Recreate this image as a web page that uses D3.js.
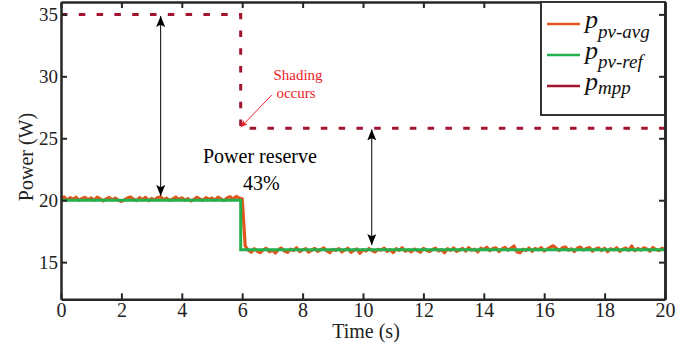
<!DOCTYPE html>
<html>
<head>
<meta charset="utf-8">
<script src="https://cdn.jsdelivr.net/npm/d3@7"></script>
<style>
  body { margin: 0; background: #fff; }
  svg { display: block; }
</style>
</head>
<body>
<svg width="695" height="344" font-family="Liberation Serif"></svg>
<script>
// ---- data ----
var xTicks = [0, 2, 4, 6, 8, 10, 12, 14, 16, 18, 20];
var yTicks = [15, 20, 25, 30, 35];

// p_pv-avg, sampled every 0.1 s from t = 0 to t = 20
var avgStep = 0.1;
var pAvg = [
  20.15, 20.26, 20.02, 20.20, 20.08, 20.24, 19.98, 20.16, 20.22, 20.04,
  20.18, 20.00, 20.25, 20.10, 19.95, 20.12, 20.21, 20.03, 20.17, 19.99,
  19.90, 20.02, 20.18, 20.26, 20.09, 19.97, 20.20, 20.05, 20.23, 19.96,
  20.14, 20.01, 20.22, 20.27, 20.04, 20.16, 19.98, 20.11, 20.25, 20.06,
  20.19, 19.99, 20.13, 19.94, 20.05, 20.23, 20.10, 19.98, 20.21, 20.07,
  20.17, 20.00, 20.24, 20.11, 19.97, 20.19, 20.28, 20.08, 20.30, 20.18,
  20.12, 16.30,
  15.96, 15.80, 16.08, 15.88, 15.76, 16.00, 16.12, 15.84, 15.97, 15.74,
  16.02, 16.14, 15.89, 15.79, 16.05, 15.94, 16.16, 15.85, 15.99, 16.09,
  15.81, 15.96, 16.10, 15.86, 16.01, 16.15, 15.91, 15.77, 16.03, 15.95,
  16.09, 15.83, 15.98, 16.12, 15.79, 15.96, 16.06, 15.72, 16.00, 15.89,
  16.10, 15.94, 15.82, 16.04, 15.97, 16.13, 15.87, 16.01, 15.78, 16.08,
  15.95, 16.16, 15.88, 15.99, 15.83, 16.06, 15.94, 15.80, 16.10, 15.97,
  15.85, 16.02, 16.13, 15.90, 16.00, 15.76, 16.08, 15.95, 16.15, 15.87,
  15.98, 16.11, 15.89, 16.17, 15.96, 16.05, 15.83, 16.13, 16.01, 16.20,
  15.93, 16.09, 16.16, 15.86, 16.07, 16.19, 15.96, 16.12, 16.30, 15.82,
  15.76, 16.05, 15.94, 16.14, 15.88, 16.10, 15.99, 16.17, 15.90, 16.06,
  16.20, 16.32, 16.12, 15.93, 16.15, 16.23, 15.96, 16.08, 15.86, 16.14,
  16.21, 15.97, 16.10, 16.18, 15.89, 16.06, 16.15, 15.94, 16.12, 15.84,
  16.08, 15.98, 16.17, 15.87, 16.04, 16.14, 15.95, 16.30, 15.92, 16.10,
  15.97, 16.16, 16.06, 15.89, 16.18, 16.02, 15.93, 16.12, 16.04
];

// p_pv-ref (step)
var refT = [0, 5.95, 5.95, 20];
var refP = [20, 20, 16, 16];

// p_mpp (step)
var mppT = [0, 5.95, 5.95, 20];
var mppP = [35, 35, 25.8, 25.8];

// reserve arrows: time, top value, bottom value
var arrowT = [3.3, 10.29];
var arrowTop = [34.87, 25.72];
var arrowBot = [20.34, 16.38];

var legendNames = [["p", "pv-avg"], ["p", "pv-ref"], ["p", "mpp"]];
var colors = ["#e0561c", "#22b14c", "#a2142f"];

// ---- chart ----
var serif = "Liberation Serif";
var svg = d3.select("svg");
var x = d3.scaleLinear().domain([0, 20]).range([61, 665]);
var y = d3.scaleLinear().domain([12, 36]).range([299.3, 2]);

var defs = svg.append("defs");
function marker(id, color, len, wid) {
  defs.append("marker")
      .attr("id", id)
      .attr("viewBox", "0 0 " + len + " " + wid)
      .attr("refX", len).attr("refY", wid / 2)
      .attr("markerWidth", len).attr("markerHeight", wid)
      .attr("markerUnits", "userSpaceOnUse")
      .attr("orient", "auto-start-reverse")
    .append("path")
      .attr("d", "M0,0 L" + len + "," + (wid / 2) + " L0," + wid + " L" + (len * 0.2) + "," + (wid / 2) + "Z")
      .attr("fill", color);
}
marker("ahBlack", "#000", 11, 9);
marker("ahRed", "#f0202a", 7, 6);

var line = d3.line().x(function(d) { return x(d[0]); }).y(function(d) { return y(d[1]); });

// p_mpp dashed
svg.append("path")
    .datum(d3.zip(mppT, mppP))
    .attr("d", line)
    .attr("fill", "none")
    .attr("stroke", colors[2])
    .attr("stroke-width", 3)
    .attr("stroke-dasharray", "6.5,11.3");

// p_pv-avg
svg.append("path")
    .datum(pAvg.map(function(v, i) { return [i * avgStep, v]; }))
    .attr("d", line)
    .attr("fill", "none")
    .attr("stroke", colors[0])
    .attr("stroke-width", 3.2)
    .attr("stroke-linejoin", "round");

// p_pv-ref
svg.append("path")
    .datum(d3.zip(refT, refP))
    .attr("d", line)
    .attr("fill", "none")
    .attr("stroke", colors[1])
    .attr("stroke-width", 3);

// reserve arrows
arrowT.forEach(function(t, i) {
  svg.append("line")
      .attr("x1", x(t)).attr("x2", x(t))
      .attr("y1", y(arrowTop[i])).attr("y2", y(arrowBot[i]))
      .attr("stroke", "#000").attr("stroke-width", 1)
      .attr("marker-start", "url(#ahBlack)")
      .attr("marker-end", "url(#ahBlack)");
});

// annotations
svg.append("text").attr("x", 203).attr("y", 163).attr("font-family", serif)
    .attr("font-size", 20).attr("fill", "#000").text("Power reserve");
svg.append("text").attr("x", 243).attr("y", 190).attr("font-family", serif)
    .attr("font-size", 20).attr("fill", "#000").text("43%");

svg.append("text").attr("x", 298).attr("y", 80).attr("text-anchor", "middle").attr("font-family", serif)
    .attr("font-size", 15).attr("fill", "#f0202a").text("Shading");
svg.append("text").attr("x", 296).attr("y", 98).attr("text-anchor", "middle").attr("font-family", serif)
    .attr("font-size", 15).attr("fill", "#f0202a").text("occurs");
svg.append("line")
    .attr("x1", x(6.98)).attr("y1", y(28.49))
    .attr("x2", x(5.95)).attr("y2", y(25.89))
    .attr("stroke", "#f0202a").attr("stroke-width", 1)
    .attr("marker-end", "url(#ahRed)");

// axes
var axisColor = "#262626";
function styleAxis(g) {
  g.attr("font-family", serif);
  g.select(".domain").attr("stroke", axisColor).attr("stroke-width", 2.5);
  g.selectAll(".tick line").attr("stroke", axisColor).attr("stroke-width", 2);
  g.selectAll(".tick text").attr("fill", "#222");
}

svg.append("g").attr("transform", "translate(0," + y(12) + ")")
    .call(d3.axisBottom(x).tickValues(xTicks).tickSizeInner(-6).tickSizeOuter(0).tickPadding(5).tickFormat(d3.format("d")))
    .call(styleAxis)
    .call(function(g) { g.selectAll(".tick text").attr("font-size", 20).attr("dy", "0.71em").attr("y", 3); });

svg.append("g").attr("transform", "translate(0," + y(36) + ")")
    .call(d3.axisTop(x).tickValues(xTicks).tickSizeInner(-6).tickSizeOuter(0).tickFormat(""))
    .call(styleAxis);

svg.append("g").attr("transform", "translate(" + x(0) + ",0)")
    .call(d3.axisLeft(y).tickValues(yTicks).tickSizeInner(-6).tickSizeOuter(0).tickPadding(4).tickFormat(d3.format("d")))
    .call(styleAxis)
    .call(function(g) { g.selectAll(".tick text").attr("font-size", 19).attr("x", -3); });

svg.append("g").attr("transform", "translate(" + x(20) + ",0)")
    .call(d3.axisRight(y).tickValues(yTicks).tickSizeInner(-6).tickSizeOuter(0).tickFormat(""))
    .call(styleAxis);

// axis titles
svg.append("text")
    .attr("transform", "translate(33,157) rotate(-90)")
    .attr("text-anchor", "middle").attr("font-size", 20).attr("fill", "#222").attr("font-family", serif)
    .text("Power (W)");
svg.append("text")
    .attr("x", 366).attr("y", 338).attr("text-anchor", "middle")
    .attr("font-size", 20).attr("fill", "#222").attr("font-family", serif)
    .text("Time (s)");

// legend
var legend = svg.append("g");
legend.append("rect")
    .attr("x", 541).attr("y", 2).attr("width", 124).attr("height", 113)
    .attr("fill", "#fff").attr("stroke", "#333").attr("stroke-width", 2);
var subDy = [10, 9, 4];
legendNames.forEach(function(n, i) {
  var ly = 24 + i * 31;
  legend.append("line")
      .attr("x1", 547).attr("x2", 580).attr("y1", ly).attr("y2", ly)
      .attr("stroke", colors[i]).attr("stroke-width", 2.5);
  var t = legend.append("text")
      .attr("x", 585).attr("y", ly + 4).attr("font-family", serif)
      .attr("font-style", "italic").attr("fill", "#111");
  t.append("tspan").attr("font-size", 26).text(n[0]);
  t.append("tspan").attr("font-size", 19).attr("dy", subDy[i]).text(n[1]);
});
// right axis ticks stay visible over the legend
svg.append("g").attr("transform", "translate(" + x(20) + ",0)")
    .call(d3.axisRight(y).tickValues([30, 35]).tickSizeInner(-6).tickSizeOuter(0).tickFormat(""))
    .call(styleAxis);
</script>
</body>
</html>
